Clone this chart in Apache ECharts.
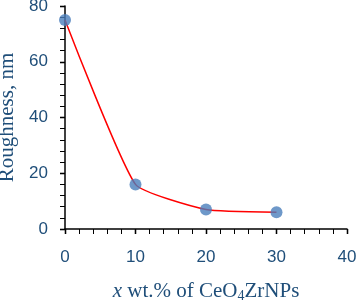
<!DOCTYPE html>
<html><head><meta charset="utf-8">
<script src="https://cdn.jsdelivr.net/npm/echarts@6/dist/echarts.min.js"></script>
<style>html,body{margin:0;padding:0;background:#fff}#c{width:356px;height:300px}</style>
</head><body><div id="c"></div>
<script>
const xValues = [0, 10, 20, 30];
const roughness = [75, 16, 7, 6];
const xTicks = [0, 10, 20, 30, 40];
const yTicks = [0, 20, 40, 60, 80];

const textColor = '#1f4e79';
const pts = xValues.map((x, i) => [x, roughness[i]]);
const chart = echarts.init(document.getElementById('c'), null, {renderer: 'canvas'});
const baseX = {type: 'value', min: 0, max: 40, interval: 10, gridIndex: 0};
const baseY = {type: 'value', min: 0, max: 80, interval: 20, gridIndex: 0};
chart.setOption({
  animation: false,
  grid: {left: 65, top: 6, width: 282, height: 223, containLabel: false, outerBoundsMode: 'none'},
  xAxis: [
    Object.assign({}, baseX, {
      axisLine: {lineStyle: {color: '#000', width: 1.5}},
      axisTick: {show: true, length: 5, lineStyle: {color: '#000', width: 1.3}},
      minorTick: {show: true, splitNumber: 5, length: 5, lineStyle: {color: '#000', width: 1}},
      splitLine: {show: false},
      axisLabel: {color: textColor, fontFamily: 'Liberation Sans', fontSize: 17, margin: 20,
        formatter: v => xTicks.includes(v) ? String(v) : ''},
      name: '{i|x} wt.% of CeO{sub|4}ZrNPs',
      nameLocation: 'middle', nameGap: 50,
      nameTextStyle: {color: textColor, fontFamily: 'Liberation Serif', fontSize: 21,
        rich: {i: {fontStyle: 'italic', fontFamily: 'Liberation Serif', fontSize: 21, color: textColor},
               sub: {fontFamily: 'Liberation Serif', fontSize: 14, color: textColor, padding: [10, 0, 0, 0]}}}
    }),
    Object.assign({}, baseX, {
      axisLine: {show: false}, axisLabel: {show: false}, splitLine: {show: false},
      axisTick: {show: true, inside: true, length: 5, lineStyle: {color: '#000', width: 1.3}}
    })
  ],
  yAxis: [
    Object.assign({}, baseY, {
      axisLine: {show: true, lineStyle: {color: '#000', width: 1.5}},
      axisTick: {show: true, length: 5, lineStyle: {color: '#000', width: 1.3}},
      minorTick: {show: true, splitNumber: 5, length: 5, lineStyle: {color: '#000', width: 1}},
      splitLine: {show: false},
      axisLabel: {color: textColor, fontFamily: 'Liberation Sans', fontSize: 17, margin: 17,
        formatter: v => yTicks.includes(v) ? String(v) : ''},
      name: 'Roughness, nm', nameLocation: 'middle', nameGap: 41,
      nameTextStyle: {color: textColor, fontFamily: 'Liberation Serif', fontSize: 21}
    }),
    Object.assign({}, baseY, {
      axisLine: {show: false}, axisLabel: {show: false}, splitLine: {show: false},
      axisTick: {show: true, inside: true, length: 5, lineStyle: {color: '#000', width: 1.3}}
    })
  ],
  series: [
    {type: 'line', data: pts, smooth: 0.15, showSymbol: false, symbol: 'none',
     lineStyle: {color: '#ff0000', width: 1.5}, z: 2},
    {type: 'scatter', data: pts, symbolSize: 12,
     itemStyle: {color: '#4a7ebb'}, z: 3}
  ]
});
</script></body></html>
